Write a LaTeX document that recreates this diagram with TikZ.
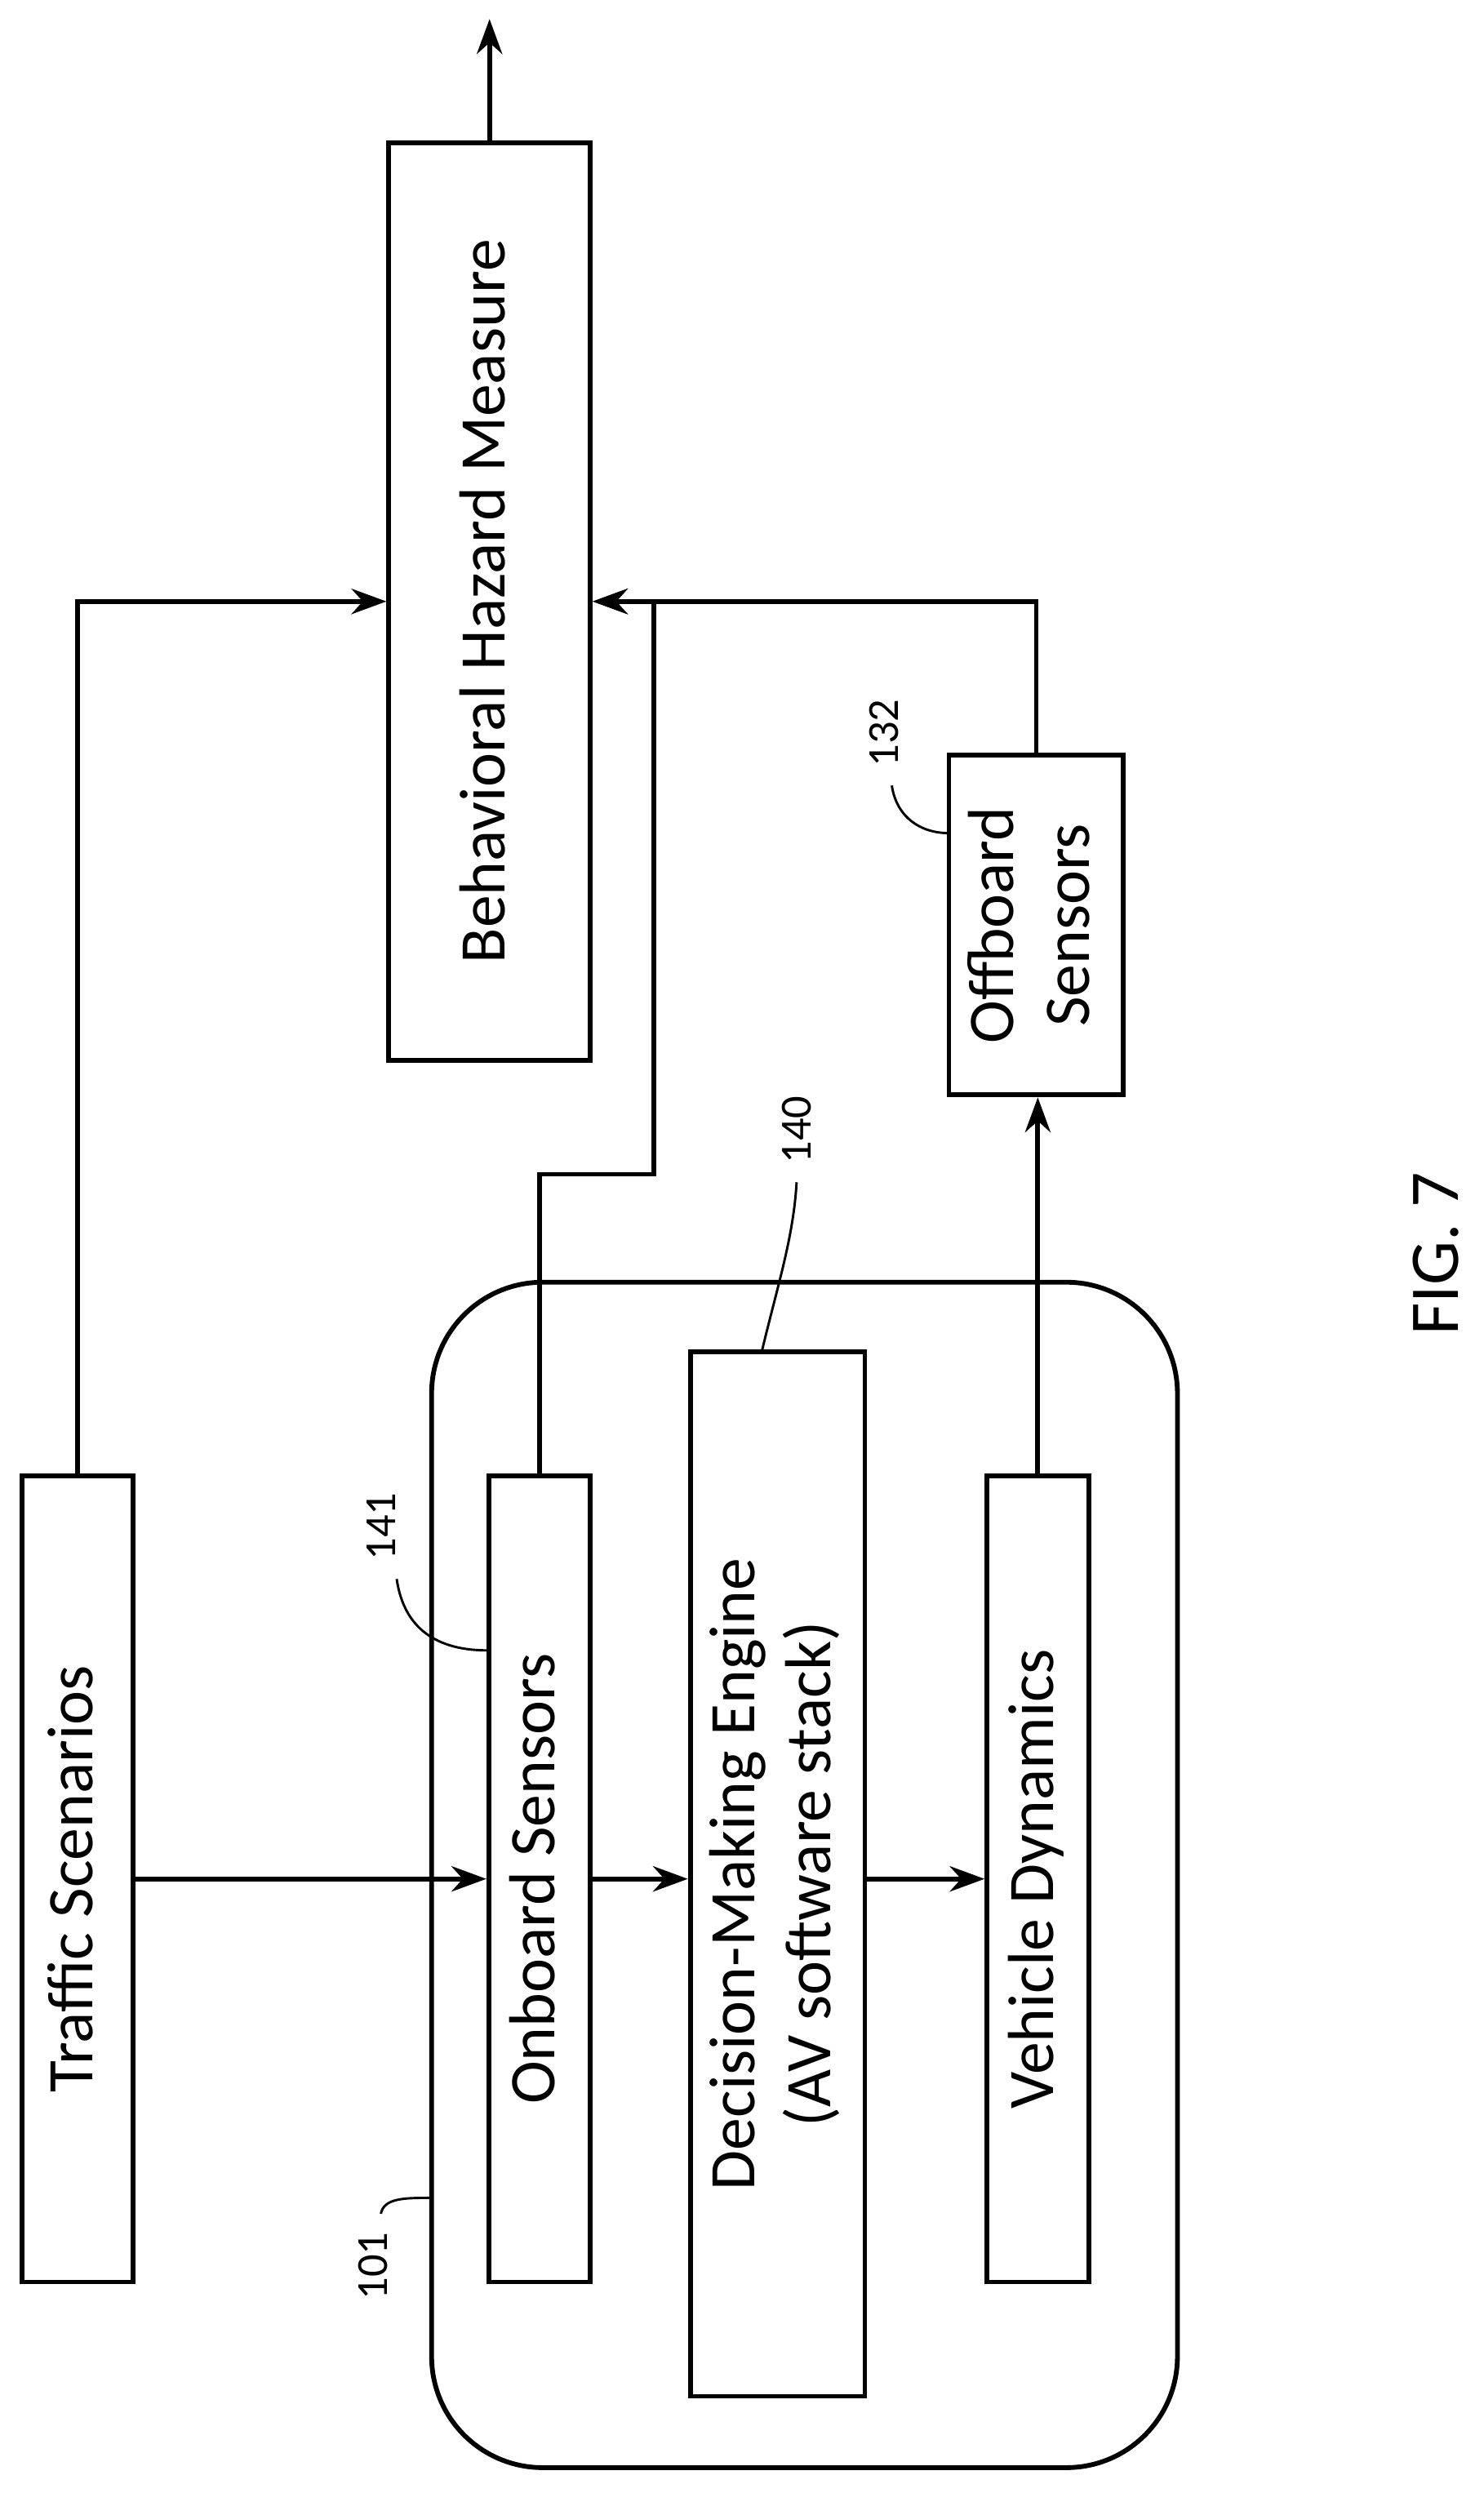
\documentclass[tikz,border=0pt]{standalone}
\usepackage{fontspec}
\setmainfont{Carlito}
\usetikzlibrary{arrows.meta}
\tikzset{
  blk/.style={draw,line width=3pt,inner sep=0pt},
  arr/.style={line width=3pt,-{Stealth[length=22pt,width=16pt]}},
  lead/.style={line width=1.5pt},
  lbl/.style={font=\fontsize{28}{32}\selectfont,rotate=90},
}
\newcommand{\vtxt}[1]{\rotatebox{90}{\fontsize{41}{48}\selectfont\begin{tabular}{c}#1\end{tabular}}}
\begin{document}
\begin{tikzpicture}[x=1pt,y=-1pt]
\useasboundingbox (0,0) rectangle (935,1571);
% vehicle
\draw[line width=3pt,rounded corners=70pt] (272,808) rectangle (742,1555);
\node[blk,minimum width=70pt,minimum height=508pt] (ts) at (49,1184) {\vtxt{Traffic Scenarios}};
\node[blk,minimum width=64pt,minimum height=508pt] (ob) at (340,1184) {\vtxt{Onboard Sensors}};
\node[blk,minimum width=110pt,minimum height=658pt] (dm) at (490,1181) {\vtxt{Decision-Making Engine\\(AV software stack)}};
\node[blk,minimum width=64pt,minimum height=508pt] (vd) at (654,1184) {\vtxt{Vehicle Dynamics}};
\node[blk,minimum width=127pt,minimum height=578pt] (bh) at (308.5,379) {\vtxt{Behavioral Hazard Measure}};
\node[blk,minimum width=110pt,minimum height=214pt] (off) at (653,583) {\vtxt{Offboard\\Sensors}};
\coordinate (top) at (308.5,12);
% arrows
\draw[arr] (ts.east) -- (ob.west);
\draw[arr] (ob.east) -- (dm.west |- ob.east);
\draw[arr] (dm.east |- vd.west) -- (vd.west);
\draw[arr] (ts.north) |- (bh.west);
\draw[arr] (ob.north) -- (340,740) -- (412,740) -- (412,379) -- (bh.east);
\draw[arr] (off.north) |- (bh.east);
\draw[arr] (vd.north) -- (vd.north |- off.south);
\draw[arr] (bh.north) -- (top);
% labels
\node[lbl] (n141) at (240,962) {141};
\draw[lead] (250,995) .. controls (255,1030) and (280,1040) .. (307,1040);
\node[lbl] (n140) at (502,712) {140};
\draw[lead] (480,852) .. controls (490,810) and (500,780) .. (502,745);
\node[lbl] (n132) at (557,462) {132};
\draw[lead] (562,495) .. controls (565,515) and (580,525) .. (598,525);
\node[lbl] (n101) at (235,1428) {101};
\draw[lead] (240,1395) .. controls (242,1385) and (255,1385) .. (272,1385);
\node[font=\fontsize{44}{50}\selectfont,rotate=90] (fig) at (905,790) {FIG. 7};
\end{tikzpicture}
\end{document}
